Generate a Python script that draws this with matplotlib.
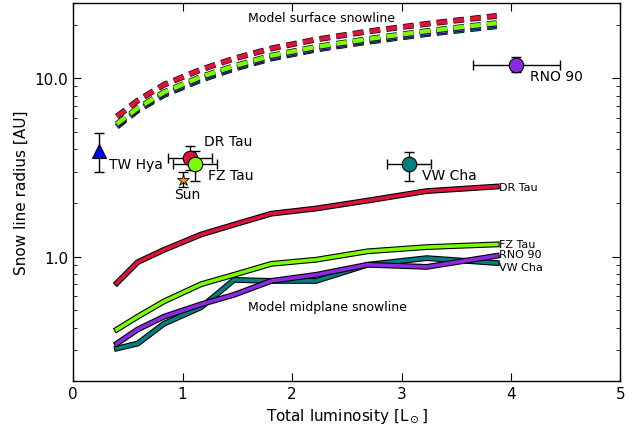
import numpy as np
import matplotlib
matplotlib.use("Agg")
import matplotlib.pyplot as plt
import matplotlib.patheffects as pe
from matplotlib.ticker import FormatStrFormatter, NullFormatter

# model grid of stellar luminosity
lum_grid = [0.40, 0.59, 0.83, 1.17, 1.47, 1.81, 2.22, 2.69, 3.23, 3.87]

# midplane snowline radius [AU]
mid_dr_tau = [0.71, 0.93, 1.09, 1.33, 1.51, 1.74, 1.86, 2.06, 2.33, 2.47]
mid_fz_tau = [0.39, 0.46, 0.56, 0.70, 0.79, 0.91, 0.96, 1.07, 1.13, 1.17]
mid_rno_90 = [0.325, 0.39, 0.46, 0.54, 0.61, 0.73, 0.79, 0.90, 0.875, 1.01]
mid_vw_cha = [0.305, 0.325, 0.42, 0.52, 0.74, 0.73, 0.73, 0.90, 0.98, 0.92]

# surface snowline radius [AU]
surf_dr_tau = [6.1, 7.5, 9.2, 11.2, 12.9, 14.7, 16.5, 18.3, 20.2, 22.4]
surf_fz_tau = [5.55, 6.8, 8.35, 10.2, 11.7, 13.4, 15.0, 16.6, 18.4, 20.4]
surf_rno_90 = [5.45, 6.7, 8.2, 10.0, 11.5, 13.1, 14.7, 16.3, 18.0, 20.0]
surf_vw_cha = [5.35, 6.6, 8.05, 9.8, 11.3, 12.9, 14.5, 16.0, 17.7, 19.6]

# observed snowlines
obs_names = ["TW Hya", "DR Tau", "FZ Tau", "VW Cha", "RNO 90"]
obs_lum = [0.24, 1.07, 1.115, 3.07, 4.05]
obs_lum_err = [0.0, 0.20, 0.20, 0.20, 0.40]
obs_r = [3.9, 3.58, 3.29, 3.29, 11.9]
obs_r_lo = [3.0, 3.05, 2.67, 2.67, 10.8]
obs_r_hi = [4.95, 4.17, 3.9, 3.86, 13.1]
sun_lum, sun_r, sun_r_lo, sun_r_hi = 1.0, 2.7, 2.45, 2.98

colors = {"DR Tau": "#dc143c", "FZ Tau": "#7cfc00", "RNO 90": "#8a2be2",
          "VW Cha": "#008080", "TW Hya": "#0000ff"}

plt.rcParams.update({
    "font.family": "DejaVu Sans",
    "xtick.direction": "in", "ytick.direction": "in",
    "xtick.top": True, "ytick.right": True,
    "xtick.major.size": 6, "ytick.major.size": 6,
    "ytick.minor.size": 3, "xtick.minor.size": 3,
    "axes.linewidth": 1.0,
})

fig = plt.figure(figsize=(6.41, 4.27), dpi=100)
ax = fig.add_axes([0.114, 0.105, 0.854, 0.886])

outline = [pe.Stroke(linewidth=4.2, foreground="black"), pe.Normal()]

mids = [("DR Tau", mid_dr_tau), ("FZ Tau", mid_fz_tau),
        ("RNO 90", mid_rno_90), ("VW Cha", mid_vw_cha)]
surfs = [("VW Cha", surf_vw_cha), ("RNO 90", surf_rno_90),
         ("FZ Tau", surf_fz_tau), ("DR Tau", surf_dr_tau)]

for name, r in surfs:
    ax.plot(lum_grid, r, ls=(0, (2.4, 1.4)), lw=3.2, color=colors[name],
            path_effects=outline)

for name, r in mids[::-1]:
    ax.plot(lum_grid, r, lw=2.6, color=colors[name], path_effects=outline)

# curve names at the right end, nudged so they don't collide
label_shift = {"DR Tau": 1.0, "FZ Tau": 1.0, "RNO 90": 1.03, "VW Cha": 0.955}
for name, r in mids:
    ax.text(lum_grid[-1] + 0.02, r[-1] * label_shift[name], name,
            fontsize=8, va="center", ha="left")

# observations
for i, name in enumerate(obs_names):
    yerr = [[obs_r[i] - obs_r_lo[i]], [obs_r_hi[i] - obs_r[i]]]
    xerr = [obs_lum_err[i]] if obs_lum_err[i] > 0 else None
    marker = "^" if name == "TW Hya" else "o"
    ax.errorbar(obs_lum[i], obs_r[i], xerr=xerr, yerr=yerr, fmt="none",
                ecolor="black", elinewidth=1, capsize=3.5, zorder=4)
    ax.plot(obs_lum[i], obs_r[i], marker=marker, ms=10.5, color=colors[name],
            mec="black", mew=0.8, ls="none", zorder=5)

ax.errorbar(sun_lum, sun_r, yerr=[[sun_r - sun_r_lo], [sun_r_hi - sun_r]],
            fmt="none", ecolor="black", elinewidth=1, capsize=3.5, zorder=4)
ax.plot(sun_lum, sun_r, marker="*", ms=9, color="#ff9900", mec="black",
        mew=0.6, ls="none", zorder=5)

ax.text(0.33, 3.29, "TW Hya", fontsize=10, va="center")
ax.text(1.20, 4.44, "DR Tau", fontsize=10, va="center")
ax.text(1.236, 2.85, "FZ Tau", fontsize=10, va="center")
ax.text(1.045, 2.23, "Sun", fontsize=10, va="center", ha="center")
ax.text(3.19, 2.85, "VW Cha", fontsize=10, va="center")
ax.text(4.17, 10.3, "RNO 90", fontsize=10, va="center")

ax.text(1.60, 22.0, "Model surface snowline", fontsize=9, va="center")
ax.text(1.60, 0.527, "Model midplane snowline", fontsize=9, va="center")

ax.set_yscale("log")
ax.set_xlim(0, 5)
ax.set_ylim(0.2, 26.5)
ax.yaxis.set_major_formatter(FormatStrFormatter("%.1f"))
ax.yaxis.set_minor_formatter(NullFormatter())
ax.tick_params(labelsize=11)
ax.set_xlabel("Total luminosity [L$_\\odot$]", fontsize=11)
ax.set_ylabel("Snow line radius [AU]", fontsize=11)

fig.savefig("out.png", dpi=100)
